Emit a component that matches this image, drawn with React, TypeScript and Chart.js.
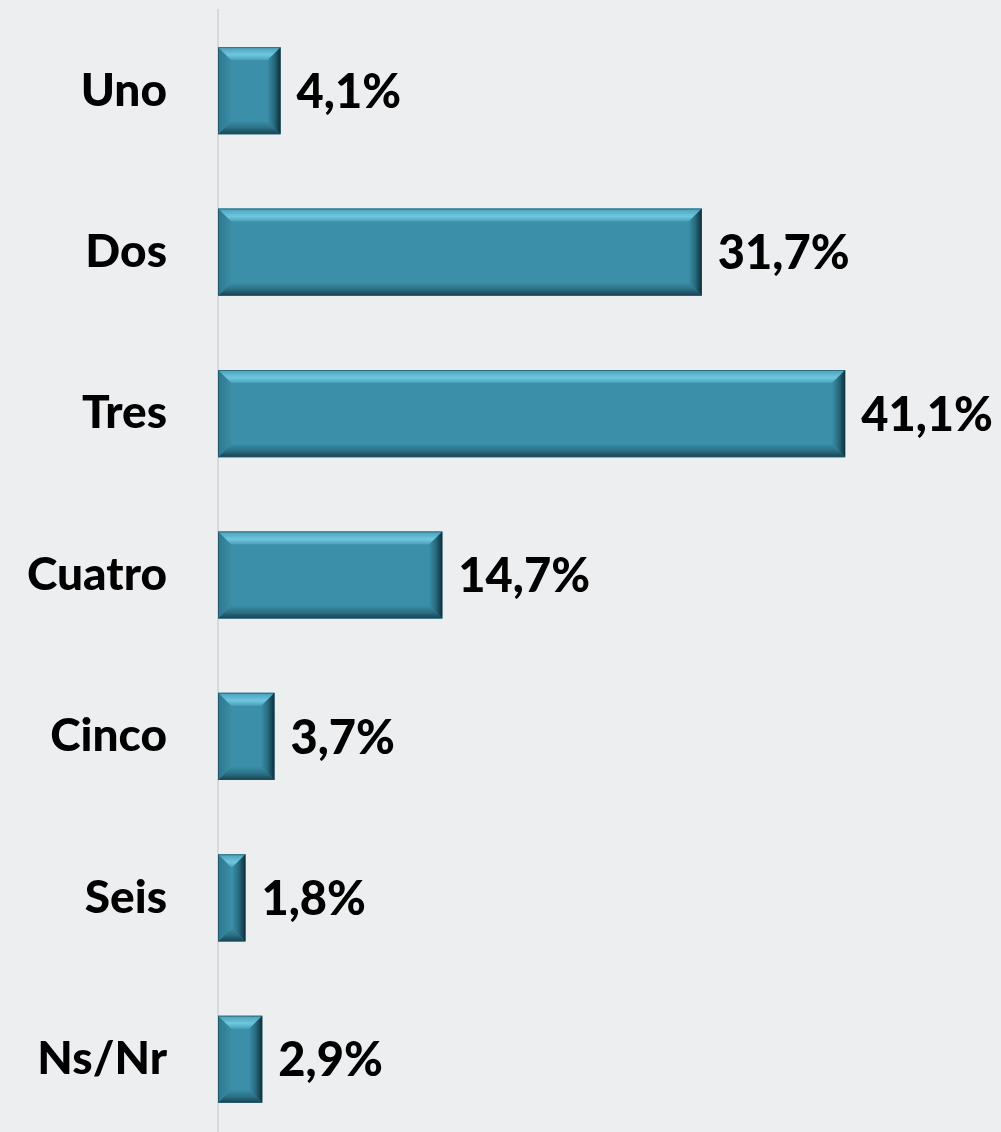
import React, { useEffect, useRef } from "react";
import { Chart, registerables } from "chart.js";

Chart.register(...registerables);

const categories = ["Uno", "Dos", "Tres", "Cuatro", "Cinco", "Seis", "Ns/Nr"];
const values = [4.1, 31.7, 41.1, 14.7, 3.7, 1.8, 2.9];
const valueLabels = ["4,1%", "31,7%", "41,1%", "14,7%", "3,7%", "1,8%", "2,9%"];

const FONT = "Lato, 'Open Sans', 'Liberation Sans', sans-serif";

const bevelPlugin = {
  id: "bevel",
  afterDatasetsDraw(chart: any) {
    const ctx = chart.ctx;
    const meta = chart.getDatasetMeta(0);
    meta.data.forEach((bar: any, i: number) => {
      const { x, y, base, height } = bar.getProps(["x", "y", "base", "height"], true);
      const l = Math.min(base, x);
      const r = Math.max(base, x);
      const t = y - height / 2;
      const b = y + height / 2;
      const w = r - l;
      const bv = Math.min(13, w / 2);
      ctx.save();
      // top bevel
      const gt = ctx.createLinearGradient(0, t, 0, t + bv);
      gt.addColorStop(0, "#4A9FB9");
      gt.addColorStop(0.6, "#6EC6DF");
      gt.addColorStop(1, "#48A0BA");
      ctx.fillStyle = gt;
      ctx.beginPath();
      ctx.moveTo(l, t);
      ctx.lineTo(r, t);
      ctx.lineTo(r - bv, t + bv);
      ctx.lineTo(l + bv, t + bv);
      ctx.closePath();
      ctx.fill();
      // bottom bevel
      const gb = ctx.createLinearGradient(0, b - bv, 0, b);
      gb.addColorStop(0, "#3A8DA6");
      gb.addColorStop(0.5, "#2B7186");
      gb.addColorStop(0.9, "#1B4B5A");
      gb.addColorStop(1, "#2A6E82");
      ctx.fillStyle = gb;
      ctx.beginPath();
      ctx.moveTo(l, b);
      ctx.lineTo(r, b);
      ctx.lineTo(r - bv, b - bv);
      ctx.lineTo(l + bv, b - bv);
      ctx.closePath();
      ctx.fill();
      // left bevel
      const gl = ctx.createLinearGradient(l, 0, l + bv, 0);
      gl.addColorStop(0, "#2E778E");
      gl.addColorStop(1, "#3A8DA6");
      ctx.fillStyle = gl;
      ctx.beginPath();
      ctx.moveTo(l, t);
      ctx.lineTo(l + bv, t + bv);
      ctx.lineTo(l + bv, b - bv);
      ctx.lineTo(l, b);
      ctx.closePath();
      ctx.fill();
      // right bevel
      const gr = ctx.createLinearGradient(r - bv, 0, r, 0);
      gr.addColorStop(0, "#3A8DA6");
      gr.addColorStop(0.5, "#276A7E");
      gr.addColorStop(1, "#0E2D37");
      ctx.fillStyle = gr;
      ctx.beginPath();
      ctx.moveTo(r, t);
      ctx.lineTo(r - bv, t + bv);
      ctx.lineTo(r - bv, b - bv);
      ctx.lineTo(r, b);
      ctx.closePath();
      ctx.fill();
      ctx.strokeStyle = "rgba(20,60,75,0.5)";
      ctx.lineWidth = 1;
      ctx.strokeRect(l + 0.5, t + 0.5, w - 1, height - 1);
      // value label
      ctx.fillStyle = "#000000";
      ctx.font = `900 47px ${FONT}`;
      ctx.textAlign = "left";
      ctx.textBaseline = "middle";
      ctx.fillText(valueLabels[i], r + 16, y + 2);
      ctx.restore();
    });
  },
};

export default function App() {
  const ref = useRef<HTMLCanvasElement | null>(null);
  useEffect(() => {
    if (!ref.current) return;
    const chart = new Chart(ref.current, {
      type: "bar",
      data: {
        labels: categories,
        datasets: [
          {
            data: values,
            backgroundColor: "#3B8FA8",
            borderWidth: 0,
            categoryPercentage: 1,
            barPercentage: 0.54,
          },
        ],
      },
      plugins: [bevelPlugin],
      options: {
        indexAxis: "y",
        animation: false,
        responsive: false,
        maintainAspectRatio: false,
        layout: { padding: { top: 10, right: 20, bottom: 0, left: 0 } },
        plugins: { legend: { display: false }, tooltip: { enabled: false } },
        scales: {
          x: { display: false, min: 0, max: 50 },
          y: {
            afterFit: (scale: any) => {
              scale.width = 218;
              scale.paddingTop = 0;
              scale.paddingBottom = 0;
            },
            grid: { display: false, drawTicks: false },
            border: { display: true, color: "#D9D9D9", width: 2 },
            ticks: {
              color: "#000000",
              padding: 51,
              font: { family: FONT, size: 46, weight: 900 as any },
            },
          },
        },
      },
    });
    return () => chart.destroy();
  }, []);
  return (
    <div
      style={{
        position: "fixed",
        left: 0,
        top: 0,
        width: 1001,
        height: 1132,
        overflow: "hidden",
        background: "#EDEEF0",
      }}
    >
      <canvas ref={ref} width={1001} height={1140} style={{ display: "block" }} />
    </div>
  );
}
